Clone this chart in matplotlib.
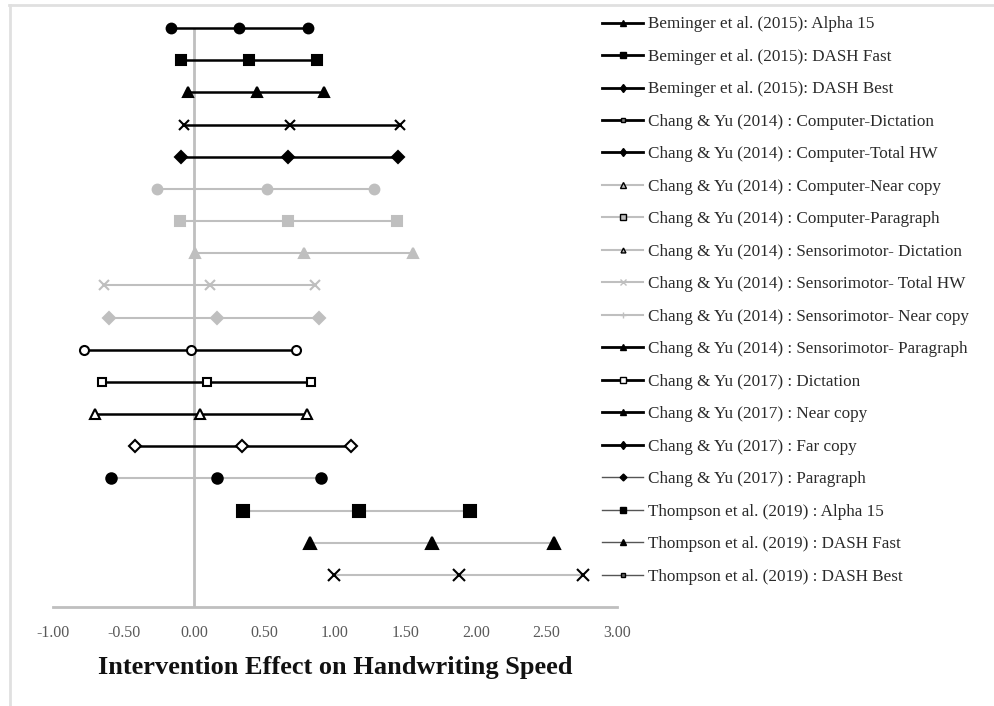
import matplotlib
matplotlib.use("Agg")
import matplotlib.pyplot as plt
from matplotlib.lines import Line2D

# ---------------- data ----------------
labels = [
    "Beminger et al. (2015): Alpha 15",
    "Beminger et al. (2015): DASH Fast",
    "Beminger et al. (2015): DASH Best",
    "Chang & Yu (2014) : Computer-Dictation",
    "Chang & Yu (2014) : Computer-Total HW",
    "Chang & Yu (2014) : Computer-Near copy",
    "Chang & Yu (2014) : Computer-Paragraph",
    "Chang & Yu (2014) : Sensorimotor- Dictation",
    "Chang & Yu (2014) : Sensorimotor- Total HW",
    "Chang & Yu (2014) : Sensorimotor- Near copy",
    "Chang & Yu (2014) : Sensorimotor- Paragraph",
    "Chang & Yu (2017) : Dictation",
    "Chang & Yu (2017) : Near copy",
    "Chang & Yu (2017) : Far copy",
    "Chang & Yu (2017) : Paragraph",
    "Thompson et al. (2019) : Alpha 15",
    "Thompson et al. (2019) : DASH Fast",
    "Thompson et al. (2019) : DASH Best",
]
lower = [-0.16, -0.09, -0.04, -0.07, -0.09, -0.26, -0.10, 0.01, -0.64, -0.60,
         -0.78, -0.65, -0.70, -0.42, -0.59, 0.35, 0.82, 0.99]
effect = [0.32, 0.39, 0.45, 0.68, 0.67, 0.52, 0.67, 0.78, 0.11, 0.16,
          -0.02, 0.09, 0.04, 0.34, 0.16, 1.17, 1.69, 1.88]
upper = [0.81, 0.87, 0.92, 1.46, 1.45, 1.28, 1.44, 1.55, 0.86, 0.89,
         0.72, 0.83, 0.80, 1.11, 0.90, 1.96, 2.55, 2.76]
xticks = [-1.0, -0.5, 0.0, 0.5, 1.0, 1.5, 2.0, 2.5, 3.0]
xlabel = "Intervention Effect on Handwriting Speed"

# ---------------- styles ----------------
BLK = "#000000"
GRY = "#bfbfbf"
# (line colour, line width, marker, marker size, face colour, edge colour)
styles = [
    (BLK, 1.8, "o", 7.0, BLK, BLK),
    (BLK, 1.8, "s", 6.5, BLK, BLK),
    (BLK, 1.8, "^", 7.5, BLK, BLK),
    (BLK, 1.8, "x", 7.0, BLK, BLK),
    (BLK, 1.8, "D", 5.8, BLK, BLK),
    (GRY, 1.5, "o", 7.0, GRY, GRY),
    (GRY, 1.5, "s", 6.5, GRY, GRY),
    (GRY, 1.5, "^", 7.5, GRY, GRY),
    (GRY, 1.5, "x", 7.0, GRY, GRY),
    (GRY, 1.5, "D", 5.8, GRY, GRY),
    (BLK, 1.8, "o", 6.5, "white", BLK),
    (BLK, 1.8, "s", 6.3, "white", BLK),
    (BLK, 1.8, "^", 7.5, "white", BLK),
    (BLK, 1.8, "D", 5.8, "white", BLK),
    (GRY, 1.5, "o", 7.5, BLK, BLK),
    (GRY, 1.5, "s", 8.0, BLK, BLK),
    (GRY, 1.5, "^", 9.0, BLK, BLK),
    (GRY, 1.5, "x", 8.5, BLK, BLK),
]
# legend handle styles: (line colour, line width, marker, size, face)
leg_styles = [
    (BLK, 2.0, "^", 4.0, BLK), (BLK, 2.0, "s", 4.0, BLK), (BLK, 2.0, "d", 4.5, BLK),
    (BLK, 2.0, "s", 3.5, "#808080"), (BLK, 2.0, "d", 4.5, BLK),
    (GRY, 1.5, "^", 4.0, GRY), (GRY, 1.5, "s", 4.0, GRY), (GRY, 1.5, "^", 3.5, GRY),
    (GRY, 1.5, "x", 4.5, GRY), (GRY, 1.5, "+", 4.5, GRY),
    (BLK, 2.0, "^", 4.0, BLK), (BLK, 2.0, "s", 4.0, "white"), (BLK, 2.0, "^", 4.0, BLK),
    (BLK, 2.0, "d", 4.5, BLK),
    ("#555555", 1.0, "D", 3.5, BLK), ("#555555", 1.0, "s", 4.5, BLK),
    ("#555555", 1.0, "^", 4.5, BLK), ("#555555", 1.0, "s", 3.5, "#666666"),
]

plt.rcParams["font.family"] = ["Liberation Serif", "DejaVu Serif"]

fig = plt.figure(figsize=(9.94, 7.06), dpi=100)
ax = fig.add_axes([53 / 994, 1 - 607 / 706, 564 / 994, (607 - 28) / 706])

n = len(labels)
handles = []
for i in range(n):
    y = n - i
    lc, lw, mk, ms, fc, ec = styles[i]
    ax.plot([lower[i], effect[i], upper[i]], [y, y, y], color=lc, lw=lw,
            marker=mk, markersize=ms, markerfacecolor=fc, markeredgecolor=ec,
            markeredgewidth=1.5, clip_on=False, zorder=3)
    llc, llw, lmk, lms, lfc = leg_styles[i]
    handles.append(Line2D([], [], color=llc, lw=llw, marker=lmk, markersize=lms,
                          markerfacecolor=lfc, markeredgecolor=llc if lmk in "x+" else BLK,
                          markeredgewidth=1.0, label=labels[i]))

ax.axvline(0, color=GRY, lw=2, zorder=1)
ax.set_xlim(-1, 3)
ax.set_ylim(0, 18)
ax.set_yticks([])
ax.set_xticks(xticks)
ax.set_xticklabels([f"{v:.2f}" for v in xticks], fontsize=11.5, color="#595959")
ax.tick_params(axis="x", length=0, pad=13)
for s in ["top", "right", "left"]:
    ax.spines[s].set_visible(False)
ax.spines["bottom"].set_color(GRY)
ax.spines["bottom"].set_linewidth(2)
ax.set_xlabel(xlabel, fontsize=19, fontweight="bold", color="#111111", labelpad=11)

fs = 12.3
fspx = fs * 100 / 72
leg = fig.legend(handles=handles, loc="upper left",
                 bbox_to_anchor=(602 / 994, 1 - 16.5 / 706),
                 frameon=False, borderpad=0, borderaxespad=0,
                 fontsize=fs, handlelength=41 / fspx, handletextpad=5 / fspx,
                 labelspacing=32.3 / fspx - 1.107 + 0.203 * 15.28 / fspx,
                 labelcolor="#2a2a2a")

# light figure border (top and left)
fig.add_artist(Line2D([9 / 994, 1], [1 - 5 / 706, 1 - 5 / 706], color="#e0e0e0", lw=2,
                      transform=fig.transFigure))
fig.add_artist(Line2D([10 / 994, 10 / 994], [0, 1 - 5 / 706], color="#e0e0e0", lw=2,
                      transform=fig.transFigure))

fig.savefig("out.png", dpi=100)
